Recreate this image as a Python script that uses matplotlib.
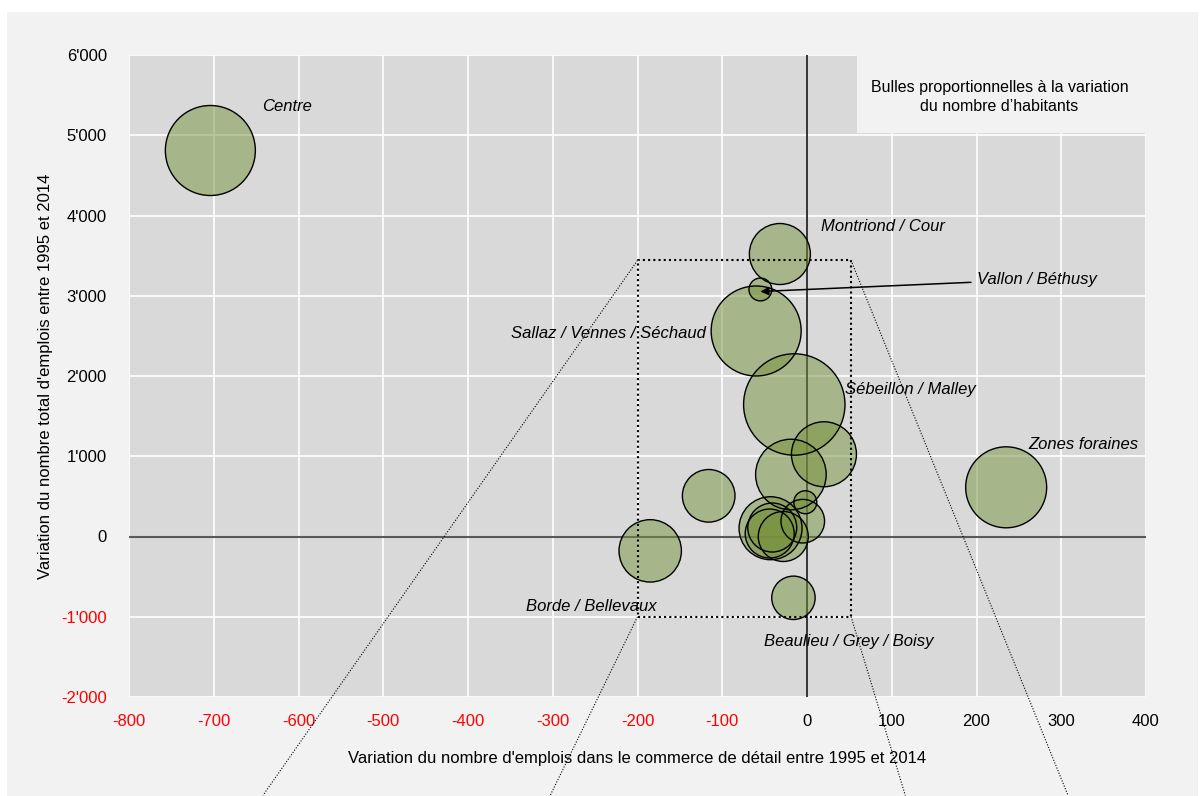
import matplotlib.pyplot as plt
import matplotlib.patches as mpatches
from matplotlib.ticker import FuncFormatter
import matplotlib.font_manager as fm

names = {f.name for f in fm.fontManager.ttflist}
FONT = 'Liberation Sans Narrow' if 'Liberation Sans Narrow' in names else 'Liberation Sans'
plt.rcParams['font.family'] = [FONT, 'DejaVu Sans']
plt.rcParams['axes.unicode_minus'] = False

# Quartiers: emplois commerce de détail (x), emplois totaux (y), habitants (taille des bulles)
quartiers = ['Centre', 'Montriond / Cour', 'Vallon / Béthusy', 'Sallaz / Vennes / Séchaud',
             'Sébeillon / Malley', 'Q6', 'Q7', 'Q8', 'Borde / Bellevaux', 'Q10', 'Q11',
             'Q12', 'Q13', 'Q14', 'Q15', 'Beaulieu / Grey / Boisy', 'Zones foraines']
emplois_commerce = [-704, -32, -55, -60, -15, 20, -19, -116, -185, -2, -5, -43, -41, -28, -44, -16, 235]
emplois_total = [4810, 3520, 3078, 2561, 1645, 1025, 772, 507, -179, 427, 191, 103, 112, 0, 37, -764, 613]
habitants = [2025, 930, 130, 2025, 2570, 1056, 1246, 692, 973, 132, 475, 992, 600, 625, 600, 471, 1640]

labels = ['Centre', 'Montriond / Cour', 'Sallaz / Vennes / Séchaud', 'Sébeillon / Malley',
          'Zones foraines', 'Borde / Bellevaux', 'Beaulieu / Grey / Boisy']
label_x = [-643, 16, -119, 45, 261, -177, -51]
label_y = [5358, 3857, 2530, 1832, 1146, -872, -1308]
label_ha = ['left', 'left', 'right', 'left', 'left', 'right', 'left']

# zone agrandie (cadre pointillé) et lignes de renvoi vers le bas
zoom_x = (-200, 52)
zoom_y = (-1000, 3440)
renvoi_bas_x = [-642, -303, 308, 116]

fig = plt.figure(figsize=(12.03, 7.96), dpi=100)
fig.patch.set_facecolor('white')
fig.patches.append(mpatches.Rectangle((7 / 1203, 0), 1191 / 1203, 784 / 796,
                                      transform=fig.transFigure, facecolor='#f2f2f2',
                                      edgecolor='none', zorder=-10))

ax = fig.add_axes([129 / 1203, 99 / 796, 1017 / 1203, 642 / 796])
ax.set_zorder(1)
ax.set_facecolor('#d9d9d9')
ax.set_xlim(-800, 400)
ax.set_ylim(-2000, 6000)
ax.set_xticks(range(-800, 401, 100))
ax.set_yticks(range(-2000, 6001, 1000))
ax.grid(True, color='white', lw=1.2)
ax.set_axisbelow(True)
for s in ax.spines.values():
    s.set_visible(False)

fmt = FuncFormatter(lambda v, p: f"{int(v):,}".replace(',', "'"))
ax.yaxis.set_major_formatter(fmt)
ax.tick_params(length=0, labelsize=12)
ax.tick_params(axis='x', pad=12)
ax.tick_params(axis='y', pad=16)
for t, v in zip(ax.get_xticklabels(), ax.get_xticks()):
    t.set_color('red' if v < 0 else 'black')
for t, v in zip(ax.get_yticklabels(), ax.get_yticks()):
    t.set_color('red' if v < 0 else 'black')

ax.axvline(0, color='black', lw=1.1, zorder=1.5)
ax.axhline(0, color='#595959', lw=1.5, zorder=1.5)

ax.scatter(emplois_commerce, emplois_total, s=[h * 2.0736 for h in habitants],
           color='#76923c', alpha=0.5, edgecolors='none', zorder=2)
ax.scatter(emplois_commerce, emplois_total, s=[h * 2.0736 for h in habitants],
           facecolors='none', edgecolors='black', linewidths=1.0, zorder=2.1)

for txt, x, y, ha in zip(labels, label_x, label_y, label_ha):
    ax.text(x, y, txt, ha=ha, va='center', fontsize=12, style='italic', zorder=4)

ax.annotate('Vallon / Béthusy', xy=(-55, 3053), xytext=(200, 3203),
            fontsize=12, style='italic', ha='left', va='center', zorder=4,
            arrowprops=dict(arrowstyle='-|>', color='black', lw=1.1,
                            shrinkA=2, shrinkB=0, mutation_scale=12))

ax.plot([zoom_x[0], zoom_x[1], zoom_x[1], zoom_x[0], zoom_x[0]],
        [zoom_y[0], zoom_y[0], zoom_y[1], zoom_y[1], zoom_y[0]],
        color='black', ls=(0, (1, 1.5)), lw=1.5, zorder=3)
corners = [(zoom_x[0], zoom_y[1]), (zoom_x[0], zoom_y[0]),
           (zoom_x[1], zoom_y[1]), (zoom_x[1], zoom_y[0])]
for (cx, cy), bx in zip(corners, renvoi_bas_x):
    ax.plot([cx, bx], [cy, -3227], color='black', ls=(0, (1, 1.5)), lw=0.8,
            clip_on=False, zorder=3)

# encart de légende des bulles
ax.add_patch(mpatches.Rectangle((59, 5034), 341, 966, facecolor='#f2f2f2',
                                edgecolor='none', zorder=3))
ax.text(227, 5480, "Bulles proportionnelles à la variation\ndu nombre d’habitants",
        ha='center', va='center', fontsize=11.5, zorder=4, linespacing=1.35)

ax.set_xlabel("Variation du nombre d'emplois dans le commerce de détail entre 1995 et 2014",
              fontsize=12, labelpad=16)
ax.set_ylabel("Variation du nombre total d'emplois entre 1995 et 2014", fontsize=12, labelpad=6)

plt.savefig('out.png', dpi=100, facecolor='white')
plt.close()
